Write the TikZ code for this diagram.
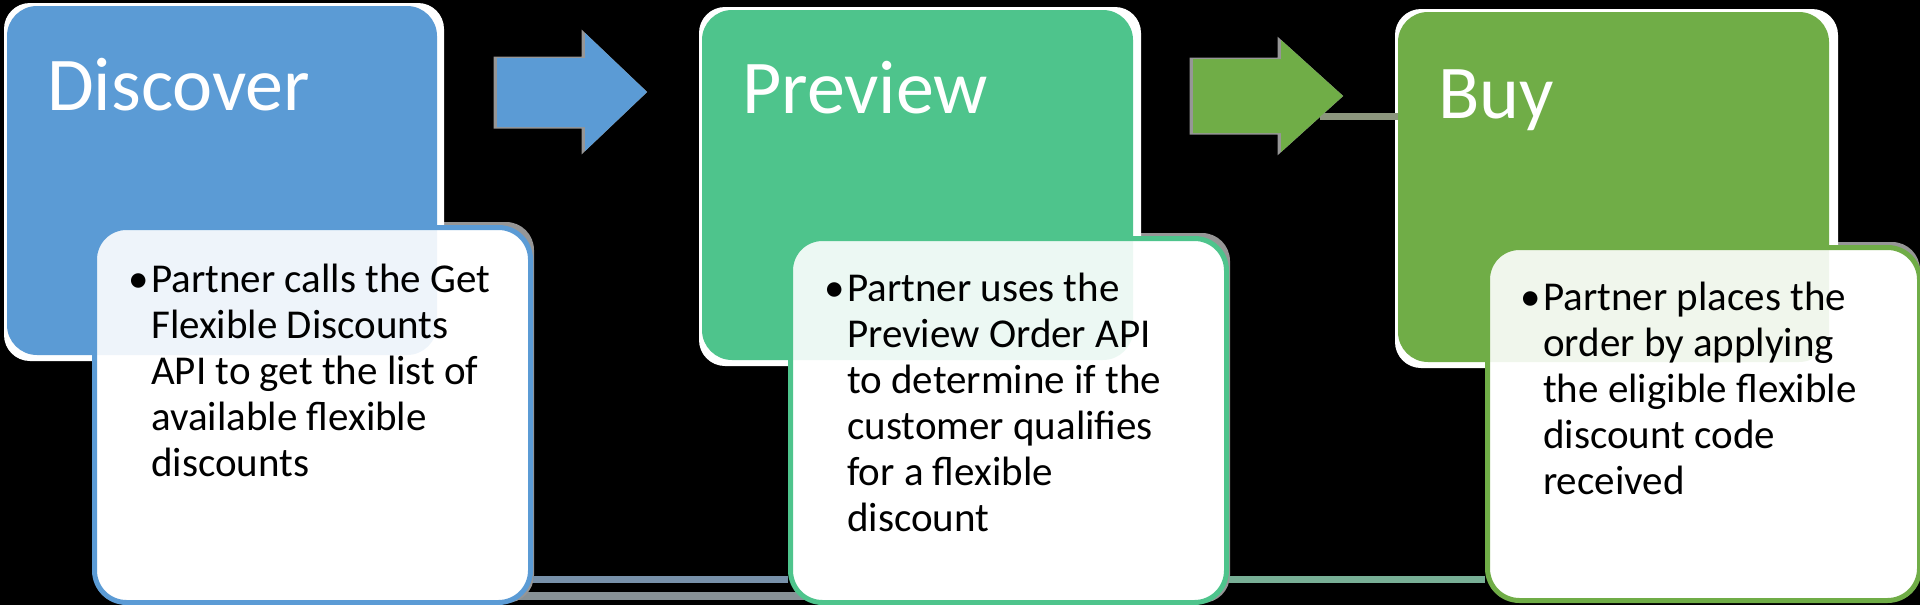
\documentclass[tikz,border=0pt]{standalone}
\usepackage{fontspec}
\setmainfont{Carlito}
\definecolor{cblue}{RGB}{91,155,213}
\definecolor{cteal}{RGB}{78,196,140}
\definecolor{cgreen}{RGB}{112,173,71}
\definecolor{shadowgrey}{RGB}{150,150,150}
\definecolor{lineblue}{RGB}{120,145,170}
\definecolor{lineteal}{RGB}{120,175,150}
\definecolor{linegrey}{RGB}{140,150,125}
\definecolor{lowgrey}{RGB}{135,145,150}
\newcommand{\bodyfnt}{\fontsize{41}{46}\selectfont}
\newcommand{\titlefnt}{\fontsize{76}{82}\selectfont}
\begin{document}
\begin{tikzpicture}[x=1pt,y=-1pt,
  stagebox/.style={fill=#1, rounded corners=30pt, anchor=north west, inner sep=0pt, outer sep=0pt},
  backdrop/.style={fill=white, rounded corners=26pt},
  greyshadow/.style={fill=shadowgrey, rounded corners=28pt},
  notebox/.style={fill=white, draw=#1, line width=5pt, rounded corners=32pt, anchor=north west, inner sep=0pt},
  titletext/.style={anchor=base west, inner sep=0pt, text=white, font=\titlefnt},
  bodytext/.style={anchor=base west, inner sep=0pt, text=black, font=\bodyfnt},
  arrowshadow/.style={draw=shadowgrey, fill=shadowgrey, line width=3pt, line join=miter},
  link/.style={line width=7pt}]
\useasboundingbox (0,0) rectangle (1920,605);
\fill[black] (0,0) rectangle (1920,605);

% low grey line behind first pair of note boxes
\coordinate (lowA) at (513,596);
\coordinate (lowB) at (807,596);
\draw[lowgrey, line width=8pt] (lowA) -- (lowB);

% grey shadows of note boxes
\fill[greyshadow] (94,222) rectangle (534,603);
\fill[greyshadow] (790,233) rectangle (1230,603);
\fill[greyshadow] (1487,242) rectangle (1920,601);

% stage boxes
\fill[backdrop] (4,3) rectangle (444,361);
\node[stagebox=cblue, minimum width=430pt, minimum height=349pt] (c1) at (7,6) {};
\fill[backdrop] (699,7) rectangle (1141,366);
\node[stagebox=cteal, minimum width=431pt, minimum height=350pt] (c2) at (702,10) {};
\fill[backdrop] (1395,9) rectangle (1838,368);
\node[stagebox=cgreen, minimum width=431pt, minimum height=350pt] (c3) at (1398,12) {};
\coordinate (a2tip) at (1320,116.5);
\draw[linegrey, link] (a2tip) -- (a2tip -| c3.west);

% arrows
\filldraw[arrowshadow, xshift=-2pt] (497,58) -- (585,58) -- (585,33) -- (647,92) -- (585,151) -- (585,127) -- (497,127) -- cycle;
\fill[cblue] (497,58) -- (585,58) -- (585,33) -- (647,92) -- (585,151) -- (585,127) -- (497,127) -- cycle;
\filldraw[arrowshadow, xshift=-2pt] (1193,59) -- (1281,59) -- (1281,40) -- (1343,96) -- (1281,152) -- (1281,133) -- (1193,133) -- cycle;
\fill[cgreen] (1193,59) -- (1281,59) -- (1281,40) -- (1343,96) -- (1281,152) -- (1281,133) -- (1193,133) -- cycle;

% note boxes
\node[notebox=cblue, minimum width=436pt, minimum height=375pt] (w1) at (92,225) {};
\begin{scope}
  \clip[rounded corners=32pt] (92,225) rectangle (528,600);
  \fill[cblue, opacity=0.1, rounded corners=30pt] (7,6) rectangle (437,355);
\end{scope}
\node[notebox=cteal, minimum width=436pt, minimum height=364pt] (w2) at (788,236) {};
\begin{scope}
  \clip[rounded corners=32pt] (788,236) rectangle (1224,600);
  \fill[cteal, opacity=0.1, rounded corners=30pt] (702,10) rectangle (1133,360);
\end{scope}
\node[notebox=cgreen, minimum width=432pt, minimum height=353pt] (w3) at (1485,245) {};
\begin{scope}
  \clip[rounded corners=32pt] (1485,245) rectangle (1917,598);
  \fill[cgreen, opacity=0.1, rounded corners=30pt] (1398,12) rectangle (1829,362);
\end{scope}

% connectors between note boxes
\coordinate (bl) at (0,579.5);
\draw[lineblue, link] (w1.east |- bl) -- (w2.west |- bl);
\draw[lineteal, link] (w2.east |- bl) -- (w3.west |- bl);

% titles
\node[titletext] (t1) at (47,110) {Discover};
\node[titletext] (t2) at (742,113) {Preview};
\node[titletext] (t3) at (1438,118) {Buy};

% body texts
\node[bodytext] (b1) at (128,292) {•};
\node[bodytext] (x1) at (151,292) {\parbox[t]{370pt}{\bodyfnt Partner calls the Get\\Flexible Discounts\\API to get the list of\\available flexible\\discounts}};
\node[bodytext] (b2) at (824,301) {•};
\node[bodytext] (x2) at (847,301) {\parbox[t]{370pt}{\bodyfnt Partner uses the\\Preview Order API\\to determine if the\\customer qualifies\\for a flexible\\discount}};
\node[bodytext] (b3) at (1520,310) {•};
\node[bodytext] (x3) at (1543,310) {\parbox[t]{370pt}{\bodyfnt Partner places the\\order by applying\\the eligible flexible\\discount code\\received}};
\end{tikzpicture}
\end{document}
